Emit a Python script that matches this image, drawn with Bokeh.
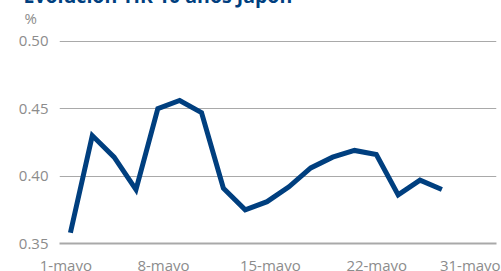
from bokeh.plotting import figure
from bokeh.models import FixedTicker, Title, NumeralTickFormatter
from bokeh.embed import file_html
from bokeh.resources import INLINE

# Data
tir = [0.358, 0.430, 0.414, 0.390, 0.450, 0.456, 0.447, 0.391, 0.375, 0.381,
       0.392, 0.406, 0.414, 0.419, 0.416, 0.386, 0.397, 0.390]
dias = list(range(len(tir)))
tick_pos = [-0.21, 4.26, 9.15, 14.02, 18.3]
tick_labels = ["1-mayo", "8-mayo", "15-mayo", "22-mayo", "31-mayo"]
y_ticks = [0.35, 0.40, 0.45, 0.50]
titulo = "Evolución TIR 10 años Japón"
unidad = "%"

FONT = "Open Sans"
GRAY = "#8c8c8c"
GRID = "#a9a9a9"
BLUE = "#003f7f"

p = figure(width=493, height=290, output_backend="svg", toolbar_location=None,
           x_range=(-0.5, 19.5), y_range=(0.35, 0.5005),
           min_border_left=51, min_border_right=5, min_border_top=10,
           min_border_bottom=39, margin=(-8, 0, 0, 8))
p.outline_line_color = None
p.background_fill_color = "white"
p.border_fill_color = "white"

p.line(dias, tir, line_color=BLUE, line_width=5, line_join="miter")

# axes
p.xaxis.ticker = FixedTicker(ticks=tick_pos)
p.xaxis.major_label_overrides = {t: l for t, l in zip(tick_pos, tick_labels)}
p.xaxis.major_tick_line_color = None
p.xaxis.minor_tick_line_color = None
p.xaxis.axis_line_color = GRID
p.xaxis.axis_line_width = 2
p.xaxis.major_label_standoff = 5
p.xaxis.major_label_text_font = FONT
p.xaxis.major_label_text_font_size = "15px"
p.xaxis.major_label_text_color = GRAY

p.yaxis.ticker = FixedTicker(ticks=y_ticks)
p.yaxis.formatter = NumeralTickFormatter(format="0.00")
p.yaxis.major_tick_line_color = None
p.yaxis.minor_tick_line_color = None
p.yaxis.axis_line_color = None
p.yaxis.major_label_standoff = 5
p.yaxis.major_label_text_font = FONT
p.yaxis.major_label_text_font_size = "15px"
p.yaxis.major_label_text_color = GRAY

p.xgrid.grid_line_color = None
p.ygrid.ticker = FixedTicker(ticks=y_ticks)
p.ygrid.grid_line_color = GRID
p.ygrid.grid_line_width = 1

# "%" first (closest to the frame), then the main title above it
p.add_layout(Title(text=unidad, align="left", offset=-35, standoff=26,
                   text_font=FONT, text_font_size="15px", text_font_style="normal",
                   text_color=GRAY), "above")
p.add_layout(Title(text=titulo, align="left", offset=-36, standoff=-32,
                   text_font=FONT, text_font_size="19.5px", text_font_style="bold",
                   text_color=BLUE), "above")

open("out.html", "w").write(file_html(p, INLINE))
